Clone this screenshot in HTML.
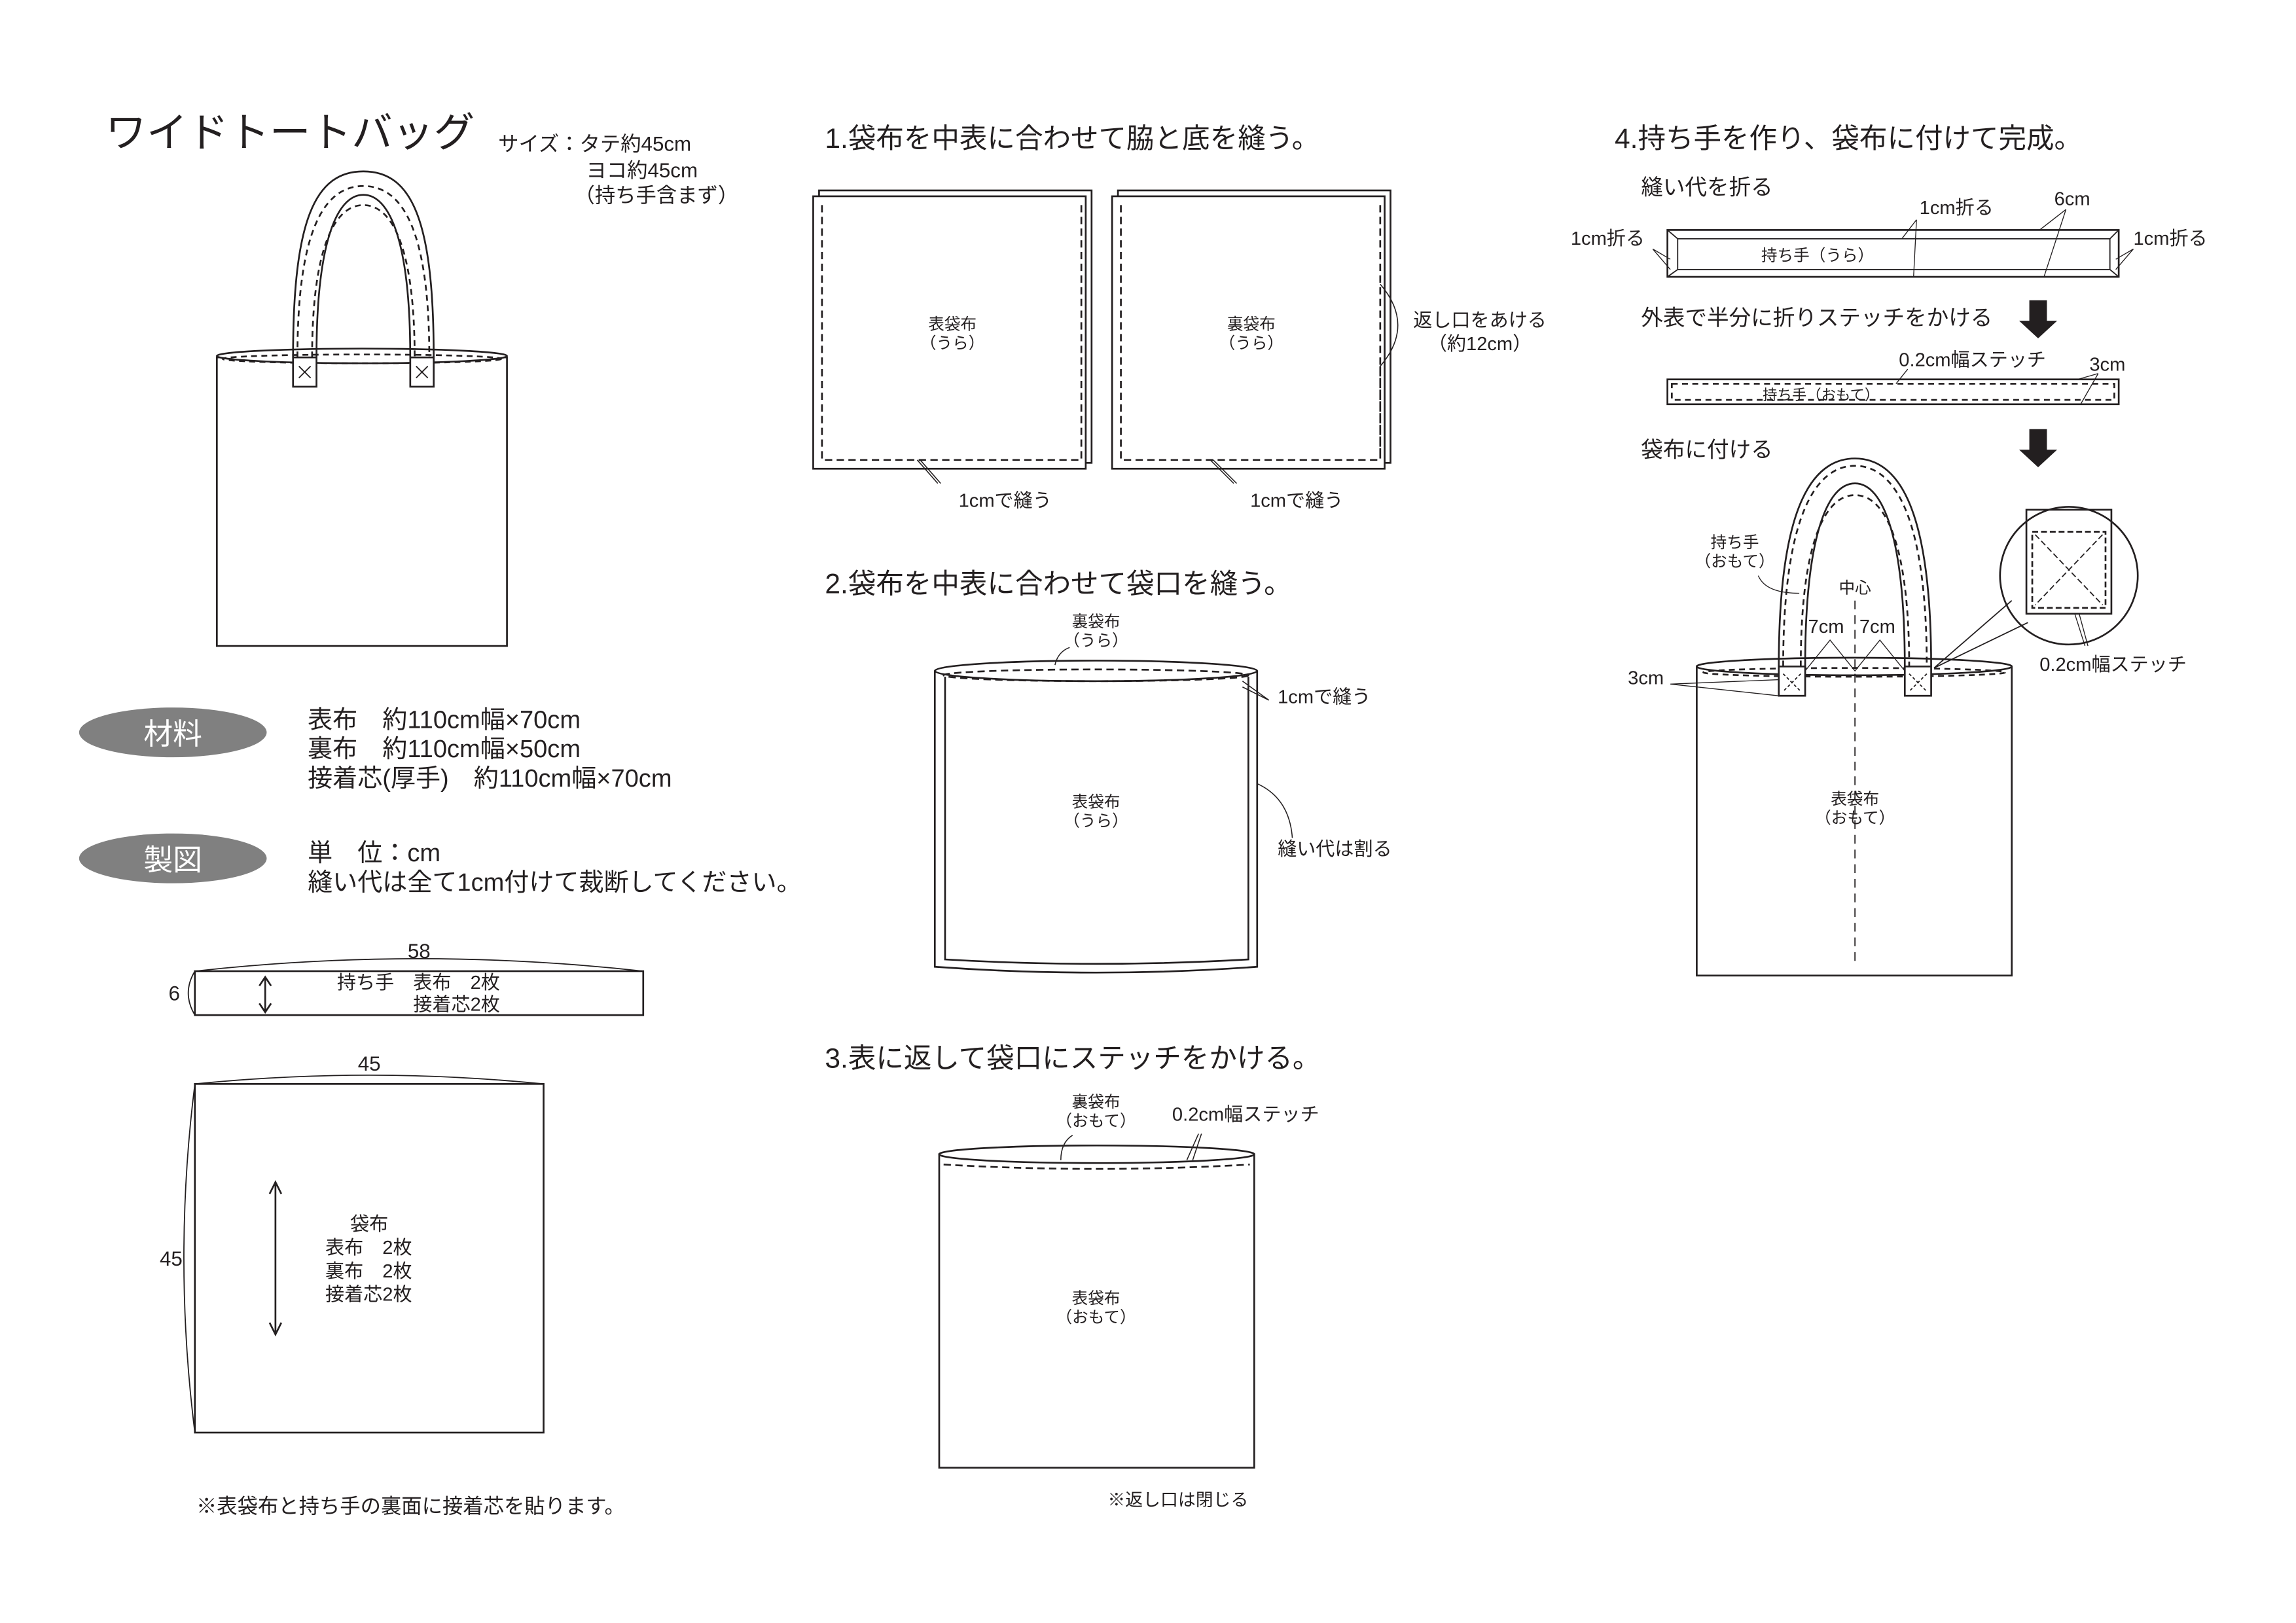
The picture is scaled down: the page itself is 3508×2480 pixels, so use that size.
<!DOCTYPE html>
<html><head><meta charset="utf-8"><style>
html,body{margin:0;padding:0;background:#fff}
svg{display:block}
text{font-family:"Liberation Sans","Noto Sans CJK JP",sans-serif;fill:#231f20}
</style></head><body>
<svg width="3508" height="2480" viewBox="0 0 1567 1108" preserveAspectRatio="none" xmlns="http://www.w3.org/2000/svg">
<g fill="none" stroke="#231f20" stroke-width="1.2">
<!-- Bag 1 -->
<rect x="148" y="244" width="198" height="197" fill="#fff"/>
<ellipse cx="247" cy="243" rx="99" ry="5" fill="#fff"/>
<ellipse cx="247" cy="245" rx="95" ry="3" stroke-dasharray="4,3"/>
<path d="M200,244 C200,150 215,117 248,117 C281,117 296,150 296,244" fill="none"/>
<path d="M216,244 C216,165 230,133 248,133 C266,133 280,165 280,244"/>
<path d="M203,244 C203,160 220,127 248,127 C276,127 293,160 293,244" stroke-dasharray="4,3"/>
<path d="M213,244 C213,170 228,140 248,140 C268,140 283,170 283,244" stroke-dasharray="4,3"/>
<rect x="200" y="244" width="16" height="20" fill="#fff"/>
<rect x="280" y="244" width="16" height="20" fill="#fff"/>
<path d="M204,250 l8,8 M212,250 l-8,8 M284,250 l8,8 M292,250 l-8,8" stroke-width="0.8"/>
<!-- pieces -->
<rect x="133" y="663" width="306" height="30"/>
<path d="M133,663 Q286,646 439,663" stroke-width="0.8"/>
<path d="M133,663 Q124,678 133,693" stroke-width="0.8"/>
<path d="M181,668 V690 M177,673 L181,667 L185,673 M177,685 L181,691 L185,685"/>
<rect x="133" y="740" width="238" height="238"/>
<path d="M133,740 Q252,728 371,740" stroke-width="0.8"/>
<path d="M133,740 Q118,859 133,978" stroke-width="0.8"/>
<path d="M188,808 V910 M184,815 L188,807 L192,815 M184,903 L188,911 L192,903"/>
<!-- step 1 -->
<rect x="559" y="130" width="186" height="186"/>
<rect x="555" y="134" width="186" height="186" fill="#fff"/>
<path d="M561,140 V314 H738 V140" stroke-dasharray="5,3"/>
<path d="M626,314 L640,330 M628,314 L642,330" stroke-width="0.7"/>
<rect x="763" y="130" width="186" height="186"/>
<rect x="759" y="134" width="186" height="186" fill="#fff"/>
<path d="M765,140 V314 H942 V192 M942,250 V314" stroke-dasharray="5,3"/>
<path d="M942,140 V192" stroke-dasharray="5,3"/>
<path d="M942,194 Q966,222 942,250" stroke-width="0.7"/>
<path d="M826,314 L842,330 M828,314 L844,330" stroke-width="0.7"/>
<!-- step 2 -->
<path d="M638,458 V660 Q748,668 858,660 V458"/>
<path d="M645,462 V655 Q748,661 852,655 V462"/>
<ellipse cx="748" cy="458" rx="110" ry="7" fill="#fff"/>
<ellipse cx="748" cy="461" rx="104" ry="4" stroke-dasharray="5,3"/>
<path d="M720,454 Q722,445 730,442" stroke-width="0.7"/>
<path d="M848,465 L866,478 M848,469 L866,478" stroke-width="0.7"/>
<path d="M858,535 Q880,545 882,572" stroke-width="0.7"/>
<!-- step 3 -->
<rect x="641" y="788" width="215" height="214"/>
<ellipse cx="748.5" cy="788" rx="107.5" ry="6" fill="#fff"/>
<path d="M644,795 Q748,801 853,795" stroke-dasharray="5,3"/>
<path d="M724,792 Q724,780 732,775 M810,792 L818,774 M814,792 L820,774" stroke-width="0.7"/>
<!-- step 4 strip 1 -->
<rect x="1138" y="157" width="308" height="32"/>
<path d="M1145,163 H1440 M1145,184 H1440 M1145,163 V184 M1440,163 V184 M1138,157 L1145,163 M1138,189 L1145,184 M1446,157 L1440,163 M1446,189 L1440,184" stroke-width="0.8"/>
<path d="M1128,170 L1140,177 M1128,170 L1140,184 M1456,170 L1444,177 M1456,170 L1444,184 M1308,150 L1298,163 M1308,150 L1306,189 M1410,143 L1392,157 M1410,143 L1395,189" stroke-width="0.6"/>
<path d="M1385,205 h12 v14 h7 l-13,12 l-13,-12 h7z M1385,293 h12 v14 h7 l-13,12 l-13,-12 h7z" fill="#231f20" stroke="none"/>
<rect x="1138" y="259" width="308" height="17"/>
<rect x="1141" y="262" width="302" height="11" stroke-dasharray="4,3"/>
<path d="M1302,252 L1294,262 M1432,255 L1418,259 M1432,255 L1420,276" stroke-width="0.6"/>
<!-- final bag -->
<rect x="1158" y="455" width="215" height="211" fill="#fff"/>
<ellipse cx="1265.5" cy="455" rx="107.5" ry="6" fill="#fff"/>
<ellipse cx="1265.5" cy="459" rx="103" ry="3" stroke-dasharray="4,3"/>
<path d="M1214,455 C1214,350 1235,313 1266,313 C1297,313 1318,350 1318,455"/>
<path d="M1232,455 C1232,370 1246,330 1266,330 C1286,330 1300,370 1300,455"/>
<path d="M1217,455 C1217,355 1238,318 1266,318 C1294,318 1315,355 1315,455" stroke-dasharray="4,3"/>
<path d="M1229,455 C1229,372 1245,338 1266,338 C1287,338 1303,372 1303,455" stroke-dasharray="4,3"/>
<rect x="1214" y="455" width="18" height="20" fill="#fff"/>
<rect x="1300" y="455" width="18" height="20" fill="#fff"/>
<path d="M1217,460 l12,12 M1229,460 l-12,12 M1303,460 l12,12 M1315,460 l-12,12" stroke-width="0.8" stroke-dasharray="2,1.5"/>
<path d="M1266,410 V660" stroke-dasharray="6,4" stroke-width="0.8"/>
<path d="M1232,458 L1249,437 L1266,458 L1283,437 L1300,458" stroke-width="0.6"/>
<path d="M1140,467 L1214,464 M1140,467 L1214,475" stroke-width="0.6"/>
<path d="M1200,393 Q1205,405 1228,405" stroke-width="0.6"/>
<circle cx="1412" cy="393" r="47" fill="#fff"/>
<path d="M1320,456 L1373,410 M1320,456 L1384,425" stroke-width="0.8"/>
<rect x="1383" y="348" width="58" height="71"/>
<rect x="1387" y="363" width="50" height="52" stroke-dasharray="4,2"/>
<path d="M1389,365 L1435,413 M1435,365 L1389,413" stroke-dasharray="4,2" stroke-width="0.8"/>
<path d="M1416,419 L1423,441 M1419,419 L1425,441" stroke-width="0.6"/>
</g>
<g>
<text x="72" y="100" font-size="28">ワイドトートバッグ</text>
<text x="340" y="103" font-size="14">サイズ：タテ約45cm</text>
<text x="400" y="121" font-size="14">ヨコ約45cm</text>
<text x="392" y="138" font-size="14">（持ち手含まず）</text>
<ellipse cx="118" cy="500" rx="64" ry="17" fill="#808080"/>
<ellipse cx="118" cy="586" rx="64" ry="17" fill="#808080"/>
<text x="118" y="508" font-size="20" text-anchor="middle" style="fill:#fff">材料</text>
<text x="118" y="594" font-size="20" text-anchor="middle" style="fill:#fff">製図</text>
<text x="210" y="497" font-size="17">表布　約110cm幅×70cm</text>
<text x="210" y="517" font-size="17">裏布　約110cm幅×50cm</text>
<text x="210" y="537" font-size="17">接着芯(厚手)　約110cm幅×70cm</text>
<text x="210" y="588" font-size="17">単　位：cm</text>
<text x="210" y="608" font-size="17">縫い代は全て1cm付けて裁断してください。</text>
<text x="286" y="654" font-size="14" text-anchor="middle">58</text>
<text x="115" y="683" font-size="14">6</text>
<text x="230" y="675" font-size="13">持ち手　表布　2枚</text>
<text x="282" y="690" font-size="13">接着芯2枚</text>
<text x="252" y="731" font-size="14" text-anchor="middle">45</text>
<text x="109" y="864" font-size="14">45</text>
<text x="239" y="840" font-size="13">袋布</text>
<text x="222" y="856" font-size="13">表布　2枚</text>
<text x="222" y="872" font-size="13">裏布　2枚</text>
<text x="222" y="888" font-size="13">接着芯2枚</text>
<text x="134" y="1033" font-size="14">※表袋布と持ち手の裏面に接着芯を貼ります。</text>
<text x="563" y="101" font-size="19">1.袋布を中表に合わせて脇と底を縫う。</text>
<text x="650" y="225" font-size="11" text-anchor="middle">表袋布</text>
<text x="650" y="238" font-size="11" text-anchor="middle">（うら）</text>
<text x="854" y="225" font-size="11" text-anchor="middle">裏袋布</text>
<text x="854" y="238" font-size="11" text-anchor="middle">（うら）</text>
<text x="686" y="346" font-size="13" text-anchor="middle">1cmで縫う</text>
<text x="885" y="346" font-size="13" text-anchor="middle">1cmで縫う</text>
<text x="1010" y="223" font-size="13" text-anchor="middle">返し口をあける</text>
<text x="1010" y="239" font-size="13" text-anchor="middle">（約12cm）</text>
<text x="563" y="405" font-size="19">2.袋布を中表に合わせて袋口を縫う。</text>
<text x="748" y="428" font-size="11" text-anchor="middle">裏袋布</text>
<text x="748" y="441" font-size="11" text-anchor="middle">（うら）</text>
<text x="872" y="480" font-size="13">1cmで縫う</text>
<text x="748" y="551" font-size="11" text-anchor="middle">表袋布</text>
<text x="748" y="564" font-size="11" text-anchor="middle">（うら）</text>
<text x="872" y="584" font-size="13">縫い代は割る</text>
<text x="563" y="729" font-size="19">3.表に返して袋口にステッチをかける。</text>
<text x="748" y="756" font-size="11" text-anchor="middle">裏袋布</text>
<text x="748" y="769" font-size="11" text-anchor="middle">（おもて）</text>
<text x="800" y="765" font-size="13">0.2cm幅ステッチ</text>
<text x="748" y="890" font-size="11" text-anchor="middle">表袋布</text>
<text x="748" y="903" font-size="11" text-anchor="middle">（おもて）</text>
<text x="804" y="1028" font-size="12" text-anchor="middle">※返し口は閉じる</text>
<text x="1102" y="101" font-size="19">4.持ち手を作り、袋布に付けて完成。</text>
<text x="1120" y="133" font-size="15">縫い代を折る</text>
<text x="1310" y="146" font-size="13">1cm折る</text>
<text x="1402" y="140" font-size="13">6cm</text>
<text x="1072" y="167" font-size="13">1cm折る</text>
<text x="1456" y="167" font-size="13">1cm折る</text>
<text x="1202" y="178" font-size="11">持ち手（うら）</text>
<text x="1120" y="222" font-size="15">外表で半分に折りステッチをかける</text>
<text x="1296" y="250" font-size="13">0.2cm幅ステッチ</text>
<text x="1426" y="253" font-size="13">3cm</text>
<text x="1203" y="273" font-size="10">持ち手（おもて）</text>
<text x="1120" y="312" font-size="15">袋布に付ける</text>
<text x="1184" y="374" font-size="11" text-anchor="middle">持ち手</text>
<text x="1184" y="387" font-size="11" text-anchor="middle">（おもて）</text>
<text x="1266" y="405" font-size="11" text-anchor="middle">中心</text>
<text x="1234" y="432" font-size="13">7cm</text>
<text x="1269" y="432" font-size="13">7cm</text>
<text x="1111" y="467" font-size="13">3cm</text>
<text x="1392" y="458" font-size="13">0.2cm幅ステッチ</text>
<text x="1266" y="549" font-size="11" text-anchor="middle">表袋布</text>
<text x="1266" y="562" font-size="11" text-anchor="middle">（おもて）</text>
</g>
</svg>
</body></html>
